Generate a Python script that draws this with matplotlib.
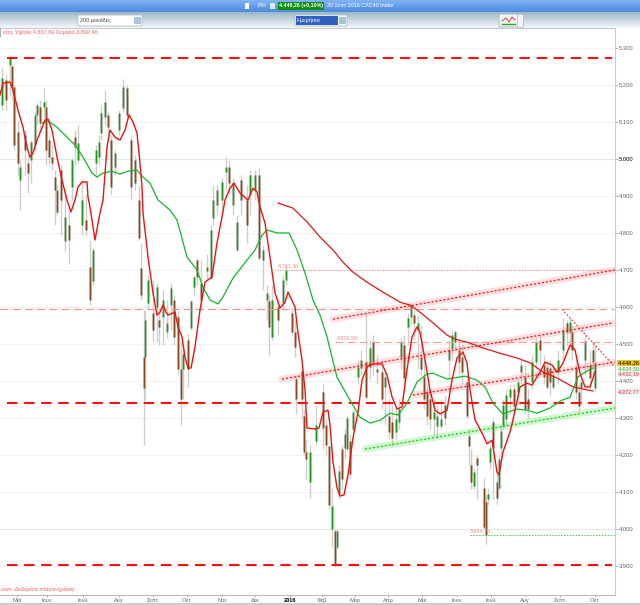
import matplotlib
matplotlib.use("Agg")
import matplotlib.pyplot as plt
import numpy as np
from matplotlib.patches import Rectangle, FancyBboxPatch

plt.rcParams['font.family'] = ['Liberation Sans', 'DejaVu Sans']

# candles: position along the time axis and prices
cx = [2, 6, 10, 12, 14, 18, 20, 25, 28, 31,
      35, 37, 40, 44, 46, 49, 52, 55, 57, 61,
      65, 69, 72, 75, 78, 82, 86, 90, 93, 96,
      99, 101, 105, 108, 111, 115, 119, 123, 127, 131,
      135, 139, 141, 144, 145, 148, 153, 157, 159, 163,
      167, 171, 174, 178, 181, 183, 188, 191, 194, 197,
      201, 207, 211, 213, 217, 222, 226, 229, 233, 237,
      241, 247, 250, 255, 259, 263, 267, 269, 272, 278,
      283, 286, 292, 295, 296, 302, 304, 306, 310, 316,
      323, 326, 329, 332, 335, 337, 339, 342, 345, 347,
      350, 353, 358, 361, 366, 370, 373, 377, 382, 385,
      389, 392, 396, 399, 401, 404, 408, 411, 414, 418,
      421, 424, 427, 430, 434, 437, 441, 445, 449, 452,
      455, 459, 462, 467, 469, 471, 474, 477, 484, 486,
      488, 490, 493, 497, 499, 501, 503, 506, 510, 514,
      518, 521, 525, 528, 532, 536, 540, 544, 547, 550,
      553, 558, 563, 567, 570, 572, 576, 579, 581, 585, 590, 593, 595]
highs = [5246, 5227, 5281, 5254, 5200, 5106, 4998, 5079, 5011, 5052,
         5128, 5152, 5160, 5192, 5160, 5066, 5039, 4971, 4931, 4985,
         4917, 4863, 5003, 5079, 5092, 4944, 4904, 4782, 4760, 5039,
         5066, 5146, 5187, 5128, 5066, 5025, 5133, 5217, 5200, 5066,
         5011, 4931, 4774, 4593, 4588, 4687, 4674, 4666, 4593, 4647,
         4620, 4666, 4633, 4593, 4512, 4485, 4526, 4620, 4687, 4733,
         4728, 4742, 4822, 4931, 4931, 4949, 5006, 4998, 4949, 4849,
         4958, 4931, 4971, 4971, 4976, 4768, 4660, 4633, 4660, 4625,
         4687, 4714, 4598, 4566, 4417, 4431, 4323, 4242, 4228, 4336,
         4391, 4296, 4228, 4112, 4000, 4000, 4174, 4228, 4269, 4309,
         4256, 4323, 4458, 4485, 4585, 4512, 4525, 4471, 4458, 4431,
         4350, 4336, 4323, 4350, 4517, 4525, 4585, 4612, 4593, 4579,
         4552, 4458, 4391, 4377, 4350, 4336, 4350, 4363, 4507, 4539,
         4539, 4512, 4498, 4417, 4269, 4215, 4161, 4201, 4139, 4094,
         4112, 4228, 4296, 4161, 4201, 4282, 4350, 4377, 4391, 4391,
         4404, 4458, 4444, 4377, 4471, 4517, 4525, 4471, 4458, 4458,
         4444, 4485, 4571, 4566, 4571, 4552, 4471, 4391, 4404, 4525, 4485, 4504, 4498]
lows = [5133, 5133, 5173, 5160, 5025, 4958, 4863, 4958, 4909, 4936,
        5025, 5092, 5079, 5111, 4985, 4985, 4971, 4822, 4849, 4795,
        4750, 4715, 4890, 4985, 4990, 4795, 4795, 4606, 4660, 4958,
        4985, 5052, 5092, 5066, 4904, 4958, 5066, 5128, 5111, 4890,
        4917, 4782, 4620, 4228, 4350, 4593, 4504, 4504, 4498, 4498,
        4517, 4539, 4498, 4417, 4282, 4350, 4385, 4539, 4633, 4660,
        4593, 4674, 4674, 4822, 4849, 4863, 4917, 4904, 4849, 4750,
        4849, 4774, 4849, 4890, 4728, 4647, 4566, 4471, 4512, 4525,
        4593, 4660, 4525, 4466, 4310, 4296, 4201, 4134, 4085, 4228,
        4215, 4201, 4053, 3950, 3896, 3945, 4080, 4107, 4188, 4215,
        4139, 4264, 4391, 4417, 4350, 4404, 4417, 4391, 4323, 4282,
        4242, 4223, 4242, 4269, 4431, 4391, 4498, 4552, 4512, 4431,
        4417, 4323, 4282, 4269, 4250, 4247, 4269, 4282, 4404, 4458,
        4485, 4417, 4391, 4301, 4174, 4107, 4107, 4080, 4000, 3959,
        4066, 4161, 4080, 4066, 4107, 4188, 4269, 4282, 4310, 4310,
        4336, 4391, 4310, 4296, 4377, 4431, 4444, 4391, 4377, 4363,
        4377, 4391, 4458, 4498, 4498, 4458, 4350, 4315, 4336, 4417, 4377, 4417, 4372]
opens = [5146, 5214, 5254, 5252, 5195, 5074, 4944, 5066, 4990, 4998,
         5039, 5119, 5141, 5141, 5141, 5052, 5006, 4952, 4917, 4971,
         4777, 4822, 4925, 5060, 4998, 4822, 4836, 4709, 4669, 4990,
         5006, 5071, 5114, 5119, 5052, 4979, 5079, 5138, 5192, 5052,
         4998, 4890, 4706, 4466, 4466, 4612, 4585, 4601, 4566, 4574,
         4531, 4606, 4620, 4574, 4431, 4431, 4512, 4544, 4655, 4728,
         4666, 4696, 4679, 4841, 4876, 4890, 4966, 4979, 4876, 4755,
         4944, 4890, 4904, 4917, 4958, 4728, 4620, 4615, 4520, 4601,
         4612, 4674, 4585, 4531, 4404, 4426, 4304, 4209, 4128, 4237,
         4369, 4282, 4223, 4001, 3994, 3950, 4094, 4215, 4256, 4215,
         4237, 4269, 4412, 4436, 4450, 4439, 4504, 4423, 4423, 4385,
         4304, 4288, 4261, 4288, 4466, 4498, 4547, 4574, 4579, 4539,
         4466, 4412, 4369, 4350, 4296, 4277, 4277, 4336, 4458, 4490,
         4506, 4485, 4466, 4396, 4250, 4174, 4115, 4193, 4112, 4074,
         4080, 4180, 4288, 4126, 4112, 4220, 4277, 4296, 4358, 4377,
         4369, 4423, 4412, 4350, 4396, 4450, 4512, 4444, 4439, 4436,
         4385, 4423, 4485, 4558, 4533, 4533, 4439, 4369, 4382, 4458, 4444, 4485, 4382]
closes = [5219, 5160, 5273, 5195, 5039, 4990, 4979, 5025, 4963, 5047,
          5119, 5146, 5098, 5155, 5025, 5006, 4990, 4917, 4858, 4890,
          4844, 4782, 4998, 5033, 5044, 4890, 4809, 4620, 4755, 5025,
          5047, 5125, 5155, 5087, 4925, 5017, 5125, 5195, 5119, 4925,
          4936, 4787, 4633, 4382, 4566, 4674, 4539, 4655, 4547, 4620,
          4558, 4652, 4520, 4431, 4350, 4472, 4431, 4615, 4682, 4682,
          4620, 4709, 4809, 4890, 4917, 4939, 4979, 4936, 4936, 4831,
          4890, 4822, 4958, 4958, 4733, 4755, 4639, 4547, 4620, 4566,
          4674, 4701, 4533, 4493, 4350, 4350, 4209, 4188, 4207, 4282,
          4274, 4228, 4066, 4061, 3902, 3994, 4156, 4134, 4220, 4301,
          4148, 4315, 4439, 4458, 4358, 4490, 4450, 4431, 4350, 4412,
          4261, 4247, 4296, 4323, 4504, 4409, 4571, 4606, 4558, 4558,
          4431, 4350, 4304, 4296, 4315, 4304, 4296, 4301, 4485, 4525,
          4533, 4450, 4423, 4304, 4223, 4128, 4153, 4174, 4004, 3985,
          4094, 4220, 4220, 4085, 4188, 4264, 4336, 4363, 4377, 4331,
          4396, 4444, 4323, 4323, 4450, 4504, 4485, 4412, 4385, 4396,
          4417, 4458, 4539, 4533, 4560, 4485, 4369, 4331, 4396, 4507, 4409, 4452, 4448]

# moving averages
fast_x = [0, 3, 10, 13, 18, 23, 27, 30, 33, 37, 42, 45, 48, 52, 57, 62, 67, 71, 75, 78,
          82, 87, 88, 90, 95, 100, 103, 107, 110, 115, 120, 125, 129, 133, 137, 140, 142, 143, 148, 153,
          157, 160, 163, 166, 168, 175, 178, 182, 185, 188, 191, 195, 200, 205, 212, 217, 222, 225, 230, 234,
          240, 248, 253, 257, 260, 265, 270, 275, 280, 285, 288, 295, 298, 302, 305, 307, 315, 319, 323, 328,
          330, 333, 337, 340, 344, 348, 353, 358, 362, 367, 373, 382, 387, 392, 397, 402, 407, 412, 417, 420,
          425, 430, 435, 440, 447, 452, 457, 463, 467, 470, 475, 483, 487, 492, 497, 499, 503, 510, 513, 520,
          527, 532, 540, 545, 552, 557, 563, 570, 575, 580, 585, 590, 595]
fast_ma = [5173, 5205, 5208, 5186, 5132, 5086, 5032, 5005, 5016, 5051, 5084, 5105, 5108, 5078, 5005, 4943, 4889, 4857, 4889, 4924,
           4938, 4938, 4897, 4870, 4781, 4854, 4889, 5032, 5078, 5059, 5051, 5078, 5119, 5100, 5070, 4989, 4924, 4854, 4735, 4638,
           4578, 4586, 4605, 4586, 4578, 4586, 4546, 4519, 4465, 4435, 4435, 4492, 4592, 4667, 4681, 4773, 4843, 4889, 4921, 4935,
           4908, 4889, 4921, 4911, 4870, 4827, 4735, 4638, 4597, 4613, 4640, 4600, 4530, 4457, 4376, 4273, 4270, 4273, 4316, 4321,
           4281, 4181, 4111, 4089, 4092, 4146, 4246, 4316, 4402, 4438, 4446, 4446, 4416, 4357, 4324, 4330, 4430, 4519, 4546, 4532,
           4457, 4376, 4321, 4311, 4321, 4402, 4462, 4478, 4448, 4376, 4295, 4254, 4230, 4240, 4154, 4146, 4208, 4262, 4295, 4384,
           4394, 4389, 4424, 4451, 4443, 4424, 4448, 4497, 4484, 4421, 4384, 4384, 4424]
mid_x = [42, 48, 57, 67, 75, 83, 92, 97, 103, 112, 120, 128, 137, 143, 150, 158, 170, 177, 187, 197,
         203, 210, 218, 223, 233, 243, 255, 262, 267, 277, 289, 297, 305, 313, 320, 327, 337, 350, 360, 370,
         380, 390, 398, 407, 417, 427, 433, 447, 465, 477, 485, 493, 503, 517, 527, 537, 550, 562, 570, 572,
         578, 587, 593]
mid_ma = [5097, 5103, 5086, 5059, 5038, 5005, 4962, 4951, 4962, 4967, 4959, 4967, 4970, 4951, 4935, 4889, 4862, 4835, 4735, 4700,
          4654, 4619, 4608, 4627, 4678, 4713, 4754, 4794, 4808, 4800, 4800, 4754, 4692, 4619, 4578, 4519, 4410, 4348, 4302, 4286,
          4294, 4313, 4308, 4340, 4397, 4419, 4421, 4405, 4413, 4402, 4384, 4340, 4311, 4324, 4321, 4313, 4327, 4348, 4356, 4370,
          4411, 4427, 4435]
slow_x = [278, 293, 307, 320, 333, 343, 353, 367, 383, 400, 410, 420, 433, 447, 455, 467, 483, 500, 517, 530, 543, 557, 573, 587, 593]
slow_ma = [4881, 4867, 4830, 4789, 4754, 4721, 4694, 4667, 4640, 4613, 4605, 4586, 4557, 4524, 4513, 4505, 4489, 4475, 4462, 4449, 4424, 4408, 4384, 4376, 4373]

# hand drawn levels and channels
strong_levels = [5272, 4340, 3902]
channel_red = [((333, 4567), (615, 4700)), ((282, 4405), (613, 4557)), ((413, 4362), (615, 4451))]
channel_green = ((365, 4216), (615, 4327))
falling = ((562, 4594), (615, 4438))

y_ticks = [3900, 4000, 4100, 4200, 4300, 4400, 4500, 4600, 4700, 4800, 4900, 5000, 5100, 5200, 5300]
month_pos = [17, 47, 83, 119, 153, 187, 222, 255, 290, 322, 355, 388, 422, 457, 491, 525, 560, 595]
month_names = ['Μαϊ', 'Ιουν', 'Ιουλ', 'Αυγ', 'Σεπτ', 'Οκτ', 'Νοε', 'Δεκ', '2016', 'Φεβ',
               'Μαρ', 'Απρ', 'Μαϊ', 'Ιουν', 'Ιουλ', 'Αυγ', 'Σεπτ', 'Οκτ']

fig = plt.figure(figsize=(6.4, 6.05), dpi=100, facecolor='white')

# window chrome, in pixel coordinates
ui = fig.add_axes([0, 0, 1, 1], zorder=0)
ui.axis('off')
grad = np.linspace(0, 1, 32).reshape(-1, 1)
ui.imshow(grad, extent=(0, 640, 12, 0), aspect='auto',
          cmap=matplotlib.colors.LinearSegmentedColormap.from_list('b', ['#7fb4f5', '#4f8ae0']))
ui.imshow(grad, extent=(0, 640, 28, 12), aspect='auto',
          cmap=matplotlib.colors.LinearSegmentedColormap.from_list('g', ['#9db8c6', '#f4f7f8']))
ui.set_xlim(0, 640)
ui.set_ylim(605, 0)
ui.add_patch(Rectangle((0, 27.5), 614.5, 1, color='#c8ccd0', lw=0))
ui.add_patch(Rectangle((0, 602.5), 640, 2.5, color='#c4d0d8', lw=0))
ui.add_patch(Rectangle((0, 28), 1, 9, color='#a0b4c0', lw=0))

ui.add_patch(FancyBboxPatch((79, 16), 62, 9, boxstyle='round,pad=1', fc='white', ec='#b0bcc4', lw=0.6))
ui.add_patch(Rectangle((134, 17), 7, 7, color='#a8c4d8', lw=0))
ui.text(79.5, 20.5, '200 μονάδες', fontsize=3.9, color='#444444', va='center')
ui.add_patch(FancyBboxPatch((296, 16), 50, 9, boxstyle='round,pad=1', fc='white', ec='#b0bcc4', lw=0.6))
ui.add_patch(Rectangle((296, 16), 42, 9, color='#2f62c0', lw=0))
ui.add_patch(Rectangle((339, 17), 7, 7, color='#a8c4d8', lw=0))
ui.text(296.5, 20.5, 'Ημερήσια', fontsize=4, color='white', va='center')
ui.add_patch(FancyBboxPatch((500, 15), 22, 11, boxstyle='round,pad=1', fc='#f0f2f2', ec='#a8b4bc', lw=0.6))
ui.add_patch(Rectangle((517, 14), 6, 13, fc='#f0f4f6', ec='#b0bcc4', lw=0.5))
ui.plot([502, 506, 509, 512, 515], [21, 18, 22, 17, 20], color='#cc3333', lw=0.6)
ui.plot([502, 506, 509, 512, 515], [24, 24, 24, 24, 24], color='#22aa22', lw=1)

ui.add_patch(Rectangle((245, 3), 4, 6, color='white', lw=0))
ui.text(258, 5.5, 'PXI', fontsize=3.9, color='white', va='center')
ui.add_patch(Rectangle((270, 3), 5, 6, color='#dfe8f4', lw=0))
ui.add_patch(Rectangle((278, 1.5), 46, 8, color='#109010', lw=0))
ui.text(279, 5.5, '4.448,26 (+0,10%)', fontsize=3.8, color='white', va='center', fontweight='bold')
ui.text(327, 5.5, '30 Σεπτ 2016 CAC40 Index', fontsize=3.9, color='white', va='center')

# price chart
ax = fig.add_axes([0, 10 / 605, 614.7 / 640, 567 / 605], zorder=1)
ax.patch.set_alpha(0)
ax.set_xlim(0, 614.7)
ax.set_ylim(3821.5, 5354)
for side in ['top', 'left']:
    ax.spines[side].set_visible(False)
ax.spines['right'].set_color('#c8ccd0')
ax.spines['bottom'].set_color('#b8bcc0')
ax.yaxis.tick_right()
ax.set_yticks(y_ticks)
ax.set_yticklabels([f'{t // 1000}.{t % 1000:03d}' for t in y_ticks])
ax.set_xticks(month_pos)
ax.set_xticklabels(month_names)
ax.tick_params(axis='y', length=2, width=0.6, color='#aaaaaa', labelsize=4.2, labelcolor='#666666', pad=1)
ax.tick_params(axis='x', length=1.5, width=0.6, color='#aaaaaa', labelsize=4.1, labelcolor='#666666', pad=0.8)
for lab in ax.get_yticklabels():
    if lab.get_text() == '5.000':
        lab.set_color('black')
for lab in ax.get_xticklabels():
    if lab.get_text() == '2016':
        lab.set_color('black')
        lab.set_fontweight('bold')
for t in y_ticks:
    ax.axhline(t, color='#e6e6e6' if t in (5000, 4000) else '#f2f2f2', lw=0.8, zorder=1)

# candles
cx_a = np.array(cx)
o = np.array(opens)
c = np.array(closes)
up = c >= o
colors = np.where(up, '#1a9a1a', '#8a4a20')
soft = np.where(up, '#a8c0a8', '#bcaa9e')
ax.vlines(cx_a, lows, highs, color='#cfcfcb', lw=1.0, zorder=2)
ax.vlines(cx_a, o, c, color=list(soft), lw=2.0, zorder=3)
ax.vlines(cx_a, o, c, color=list(colors), lw=0.8, zorder=4)

# levels
for lvl in strong_levels:
    ax.plot([7, 612], [lvl, lvl], color='#ff1010', lw=1.5, dashes=(5, 3.2), zorder=6)
ax.plot([0, 614], [4595, 4595], color='#ff8a8a', lw=0.8, dashes=(7, 4), zorder=5)
ax.plot([335, 614], [4506, 4506], color='#ff9a9a', lw=0.8, dashes=(7, 4), zorder=5)
ax.plot([277, 614], [4701, 4701], color='#ff8a8a', lw=0.8, ls=(0, (1, 1.5)), zorder=5)
ax.plot([470, 614], [3984, 3984], color='#50c850', lw=0.7, ls=(0, (1.5, 1.5)), zorder=5)

# channels with glow
for (p0, p1) in channel_red:
    ax.plot([p0[0], p1[0]], [p0[1], p1[1]], color='#ff5050', lw=5, alpha=0.18, solid_capstyle='round', zorder=5)
    ax.plot([p0[0], p1[0]], [p0[1], p1[1]], color='#ee1010', lw=0.9, ls=(0, (1.6, 1.6)), zorder=6)
p0, p1 = channel_green
ax.plot([p0[0], p1[0]], [p0[1], p1[1]], color='#30e830', lw=5, alpha=0.22, solid_capstyle='round', zorder=5)
ax.plot([p0[0], p1[0]], [p0[1], p1[1]], color='#10c810', lw=0.9, ls=(0, (1.6, 1.6)), zorder=6)
p0, p1 = falling
ax.plot([p0[0], p1[0]], [p0[1], p1[1]], color='#ee3030', lw=0.8, ls=(0, (1.6, 1.6)), zorder=6)

# moving averages
ax.plot(mid_x, mid_ma, color='#12b82a', lw=0.9, zorder=7)
ax.plot(slow_x, slow_ma, color='#e01818', lw=0.9, zorder=7)
ax.plot(fast_x, fast_ma, color='#f01010', lw=1.0, zorder=8)

# small texts
ax.text(278, 4708, '4.701,36', fontsize=3.9, color='#ff8a8a', zorder=9)
ax.text(337, 4513, '4.506,58', fontsize=3.9, color='#ff8a8a', zorder=9)
ax.text(470, 3992, '3.984,72', fontsize=3.9, color='#ff8a8a', zorder=9)
ui.text(3, 32.5, 'έτος Υψηλό 4.607,69 Χαμηλό 3.892,46', fontsize=3.95, color='#ff5a5a', va='center')
ax.text(0, 3838, '.com  Δεδομένα πλάγια-ημέρας', fontsize=3.85, color='#ff5a5a', style='italic', va='center', zorder=9)

# price tags on the right axis
ax.text(618, 4434, '4.434,50', fontsize=4, color='#30b030', va='center', clip_on=False, zorder=10,
        bbox=dict(fc='#f4f8f4', ec='none', pad=0.5))
ax.text(618, 4419, '4.432,19', fontsize=4, color='#e03030', va='center', clip_on=False, zorder=10,
        bbox=dict(fc='#f0f0f0', ec='none', pad=0.5))
ax.text(618, 4372, '4.372,77', fontsize=4, color='#e03030', va='center', clip_on=False, zorder=10,
        bbox=dict(fc='#eeeeee', ec='none', pad=0.5))
ax.text(618, 4448, '4.448,26', fontsize=4, color='black', va='center', clip_on=False, zorder=11,
        bbox=dict(fc='#f0c820', ec='none', pad=0.5))

fig.savefig('out.png', dpi=100)
